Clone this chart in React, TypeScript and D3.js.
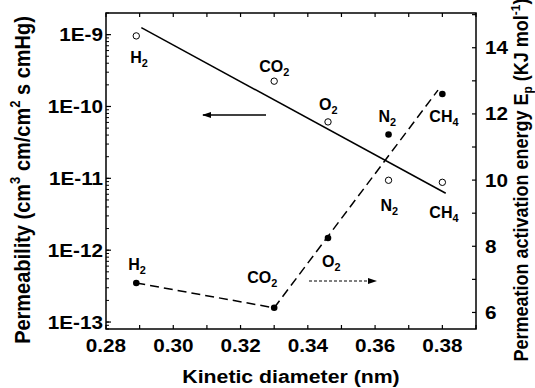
import React from "react";
import * as d3 from "d3";

// ---- data ----
const gases = ["H2", "CO2", "O2", "N2", "CH4"];
const kineticDiameter = [0.289, 0.33, 0.346, 0.364, 0.38];
const permeability = [9.6e-10, 2.25e-10, 6.1e-11, 9.4e-12, 8.8e-12];
const activationEnergy = [6.89, 6.14, 8.25, 11.38, 12.6];
const fitX = [0.2905, 0.381];
const fitP = [1.25e-9, 6.2e-12];
const dashX = [0.289, 0.33, 0.3787];
const dashE = [6.89, 6.14, 12.72];
const xTicks = [0.28, 0.3, 0.32, 0.34, 0.36, 0.38];
const xMinor = [0.28, 0.29, 0.3, 0.31, 0.32, 0.33, 0.34, 0.35, 0.36, 0.37, 0.38, 0.39];
const leftTicks = [1e-13, 1e-12, 1e-11, 1e-10, 1e-9];
const leftTickLabels = ["1E-13", "1E-12", "1E-11", "1E-10", "1E-9"];
const rightTicks = [6, 8, 10, 12, 14];

const W = 535, H = 388;
const L = 106, R = 476, T = 13, B = 329;
const FONT = "'Liberation Sans', Arial, sans-serif";
const SX = 1.15;
const TFS = 18;

function Gas({ x, y, name, fs = 16 }: { x: number; y: number; name: string; fs?: number }) {
  const m = name.match(/^([A-Z]+)(\d*)$/);
  const base = m ? m[1] : name;
  const sub = m ? m[2] : "";
  return (
    <text x={x} y={y} fontSize={fs} fontWeight="bold" fontFamily={FONT}>
      {base}
      {sub && (
        <tspan fontSize={fs * 0.68} dy={4}>
          {sub}
        </tspan>
      )}
    </text>
  );
}

function SText({ x, y, anchor = "start", fs = TFS, children }: { x: number; y: number; anchor?: string; fs?: number; children: React.ReactNode }) {
  return (
    <text
      transform={`translate(${x},${y}) scale(${SX},1)`}
      textAnchor={anchor}
      fontSize={fs}
      fontWeight="bold"
      fontFamily={FONT}
    >
      {children}
    </text>
  );
}

export default function App() {
  const x = d3.scaleLinear().domain([0.28, 0.39]).range([L, R]);
  const yL = d3.scaleLog().domain([8e-14, 2e-9]).range([B, T]);
  const yR = d3.scaleLinear().domain([5.5, 15.05]).range([B, T]);

  const leftMinor: number[] = [];
  for (let e = -14; e <= -9; e++) {
    for (let k = 1; k <= 9; k++) {
      const v = k * Math.pow(10, e);
      if (v >= 8e-14 * 0.999 && v <= 2e-9 * 1.001) leftMinor.push(v);
    }
  }
  const rightMinor = d3.range(6, 16);

  const fitLine = d3
    .line<number>()
    .x((_, i) => x(fitX[i]))
    .y((_, i) => yL(fitP[i]));
  const dashLine = d3
    .line<number>()
    .x((_, i) => x(dashX[i]))
    .y((_, i) => yR(dashE[i]));

  const idx = (g: string) => gases.indexOf(g);
  const px = (g: string) => x(kineticDiameter[idx(g)]);
  const pyL = (g: string) => yL(permeability[idx(g)]);
  const pyR = (g: string) => yR(activationEnergy[idx(g)]);

  return (
    <div style={{ position: "absolute", left: 0, top: 0 }}>
      <svg width={W} height={H} style={{ display: "block", background: "#fff" }}>
        <rect x={L} y={T} width={R - L} height={B - T} fill="none" stroke="#000" strokeWidth={1.5} />

        {xMinor.map((v) => (
          <g key={"xt" + v}>
            <line x1={x(v)} x2={x(v)} y1={B} y2={B - 4} stroke="#000" strokeWidth={1.2} />
            <line x1={x(v)} x2={x(v)} y1={T} y2={T + 4} stroke="#000" strokeWidth={1.2} />
          </g>
        ))}
        {xTicks.map((v) => (
          <SText key={"xl" + v} x={x(v)} y={352} anchor="middle">
            {v.toFixed(2)}
          </SText>
        ))}

        {leftMinor.map((v) => (
          <line key={"lm" + v} x1={L} x2={L + 3} y1={yL(v)} y2={yL(v)} stroke="#000" strokeWidth={1} />
        ))}
        {leftTicks.map((v, i) => (
          <g key={"lt" + v}>
            <line x1={L} x2={L + 5} y1={yL(v)} y2={yL(v)} stroke="#000" strokeWidth={1.2} />
            <SText x={L - 3} y={yL(v) + 6.5} anchor="end">
              {leftTickLabels[i]}
            </SText>
          </g>
        ))}

        {rightMinor.map((v) => (
          <line key={"rm" + v} x1={R} x2={R - 4} y1={yR(v)} y2={yR(v)} stroke="#000" strokeWidth={1.2} />
        ))}
        {rightTicks.map((v) => (
          <SText key={"rt" + v} x={R + 9} y={yR(v) + 6.5}>
            {v}
          </SText>
        ))}

        <path d={fitLine(fitX) || ""} fill="none" stroke="#000" strokeWidth={1.5} />
        <path d={dashLine(dashX) || ""} fill="none" stroke="#000" strokeWidth={1.5} strokeDasharray="9,5" />

        {gases.map((g, i) => (
          <g key={"p" + g}>
            <circle cx={x(kineticDiameter[i])} cy={yL(permeability[i])} r={3.2} fill="#fff" stroke="#000" strokeWidth={1} />
            <circle cx={x(kineticDiameter[i])} cy={yR(activationEnergy[i])} r={3.3} fill="#000" />
          </g>
        ))}

        <line x1={266} x2={203} y1={115} y2={115} stroke="#000" strokeWidth={1.3} />
        <path d="M 202 115 L 211 112 L 211 118 Z" fill="#000" />
        <line x1={309} x2={372} y1={281} y2={281} stroke="#000" strokeWidth={1.2} strokeDasharray="3,2" />
        <path d="M 377 281 L 368 278 L 368 284 Z" fill="#000" />

        <Gas x={px("H2") - 6} y={pyL("H2") + 27} name="H2" />
        <Gas x={px("CO2") - 15} y={pyL("CO2") - 9} name="CO2" />
        <Gas x={px("O2") - 9} y={pyL("O2") - 12} name="O2" />
        <Gas x={px("N2") - 10} y={pyR("N2") - 12} name="N2" />
        <Gas x={px("CH4") - 13} y={pyR("CH4") + 28} name="CH4" />
        <Gas x={px("N2") - 8} y={pyL("N2") + 31} name="N2" />
        <Gas x={px("CH4") - 13} y={pyL("CH4") + 36} name="CH4" />
        <Gas x={px("H2") - 8} y={pyR("H2") - 13} name="H2" />
        <Gas x={px("CO2") - 27} y={pyR("CO2") - 25} name="CO2" />
        <Gas x={px("O2") - 6} y={pyR("O2") + 29} name="O2" />

        <SText x={291} y={383} anchor="middle" fs={18.5}>
          Kinetic diameter (nm)
        </SText>
        <text
          transform="translate(30,180) rotate(-90) scale(1,1.12)"
          textAnchor="middle"
          fontSize={20}
          fontWeight="bold"
          fontFamily={FONT}
        >
          Permeability (cm
          <tspan fontSize={13} dy={-9}>3</tspan>
          <tspan dy={9}> cm/cm</tspan>
          <tspan fontSize={13} dy={-9}>2</tspan>
          <tspan dy={9}> s cmHg)</tspan>
        </text>
        <text
          transform="translate(528,180) rotate(-90) scale(1,1.1)"
          textAnchor="middle"
          fontSize={18}
          fontWeight="bold"
          fontFamily={FONT}
        >
          Permeation activation energy E
          <tspan fontSize={12} dy={4}>p</tspan>
          <tspan dy={-4}> (KJ mol</tspan>
          <tspan fontSize={12} dy={-7}>-1</tspan>
          <tspan dy={7}>)</tspan>
        </text>
      </svg>
    </div>
  );
}
